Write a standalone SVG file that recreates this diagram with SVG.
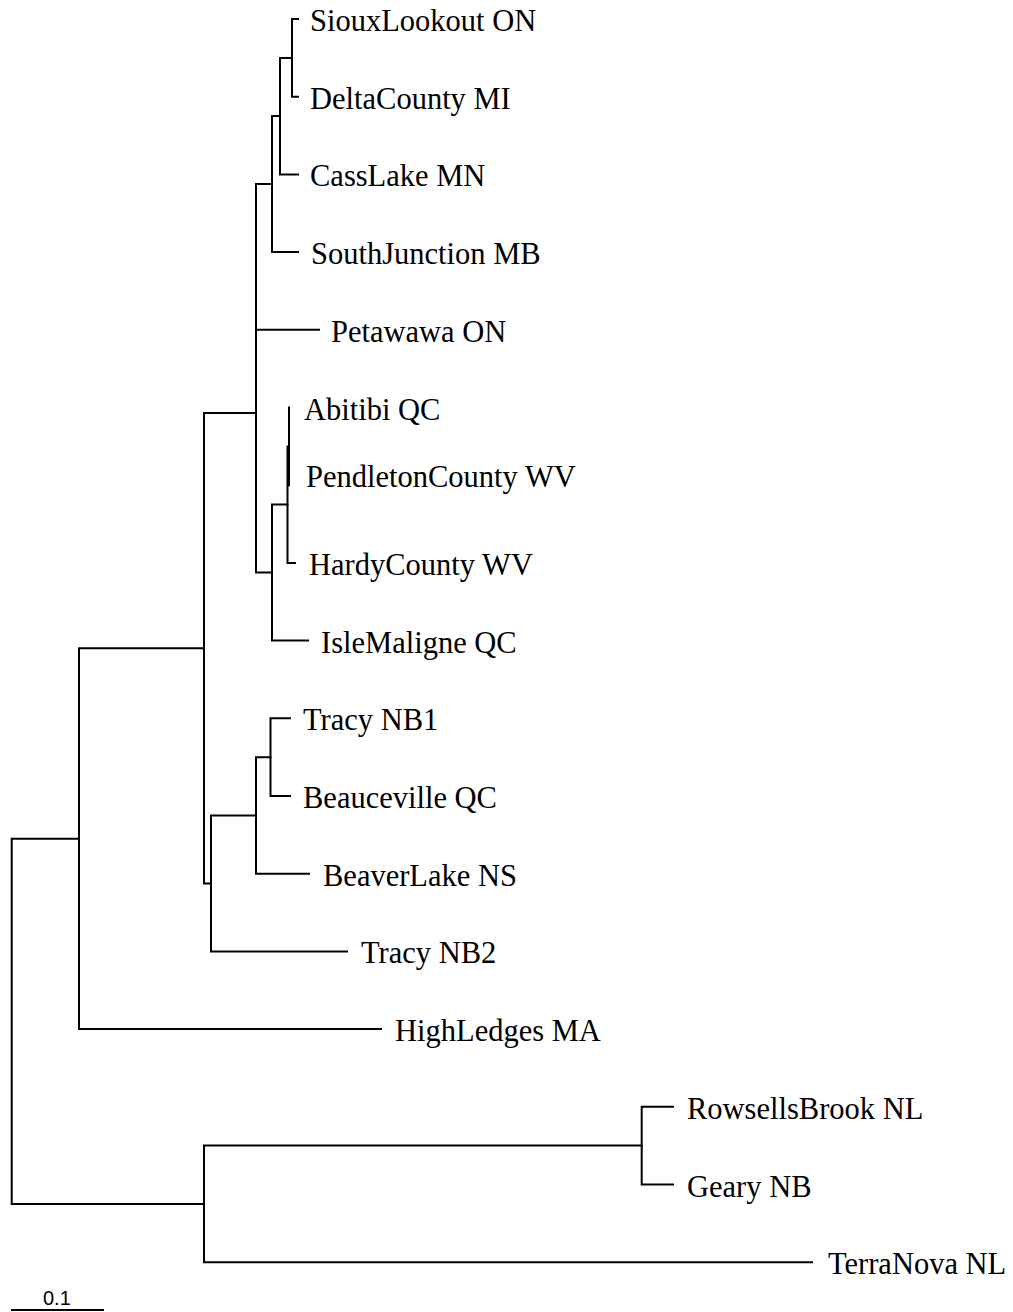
<svg xmlns="http://www.w3.org/2000/svg" width="1013" height="1312" viewBox="0 0 1013 1312">
<style>
.br{fill:none;stroke:#000;stroke-width:2;stroke-linecap:square;stroke-linejoin:miter}
.lb{font-family:"Liberation Serif","Times New Roman",serif;font-size:30.5px;fill:#000}
.sc{font-family:"Liberation Sans",Arial,sans-serif;font-size:20px;fill:#000}
</style>
<rect width="1013" height="1312" fill="#fff"/>
<g id="connectors">
<path class="br" d="M298,19 H292 V96.7 H298"/>
<path class="br" d="M292,57.9 H280 V174.4 H298"/>
<path class="br" d="M280,116.1 H272 V252.1 H298"/>
<path class="br" d="M272,184.1 H256 V572.6 H272"/>
<path class="br" d="M256,329.8 H319"/>
<path class="br" d="M289,407.5 V485.2"/>
<path class="br" d="M289,446.4 H287.5 V562.9 H295"/>
<path class="br" d="M287.5,504.6 H272 V640.6 H308"/>
<path class="br" d="M290,718.3 H270.5 V796 H290"/>
<path class="br" d="M270.5,757.2 H256 V873.7 H309"/>
<path class="br" d="M256,815.4 H211 V951.4 H347"/>
<path class="br" d="M256,413 H204 V883.4 H211"/>
<path class="br" d="M204,648.2 H79 V1029.1 H381"/>
<path class="br" d="M673,1106.8 H641.7 V1184.5 H673"/>
<path class="br" d="M641.7,1145.6 H204 V1262.2 H812"/>
<path class="br" d="M79,838.7 H11.7 V1203.9 H204"/>
</g>
<g id="n-siouxlookout"><text class="lb" x="310" y="31">SiouxLookout ON</text></g>
<g id="n-deltacounty"><text class="lb" x="310" y="108.7">DeltaCounty MI</text></g>
<g id="n-casslake"><text class="lb" x="310" y="186.4">CassLake MN</text></g>
<g id="n-southjunction"><text class="lb" x="311" y="264.1">SouthJunction MB</text></g>
<g id="n-petawawa"><text class="lb" x="331" y="341.8">Petawawa ON</text></g>
<g id="n-abitibi"><text class="lb" x="304" y="419.5">Abitibi QC</text></g>
<g id="n-pendleton"><text class="lb" x="306" y="487">PendletonCounty WV</text></g>
<g id="n-hardy"><text class="lb" x="309" y="575">HardyCounty WV</text></g>
<g id="n-islemaligne"><text class="lb" x="321" y="652.6">IsleMaligne QC</text></g>
<g id="n-tracynb1"><text class="lb" x="303" y="730.3">Tracy NB1</text></g>
<g id="n-beauceville"><text class="lb" x="303" y="808">Beauceville QC</text></g>
<g id="n-beaverlake"><text class="lb" x="323" y="885.7">BeaverLake NS</text></g>
<g id="n-tracynb2"><text class="lb" x="361" y="963.4">Tracy NB2</text></g>
<g id="n-highledges"><text class="lb" x="395" y="1041">HighLedges MA</text></g>
<g id="n-rowsellsbrook"><text class="lb" x="687" y="1118.8">RowsellsBrook NL</text></g>
<g id="n-geary"><text class="lb" x="687" y="1196.5">Geary NB</text></g>
<g id="n-terranova"><text class="lb" x="828" y="1274.2">TerraNova NL</text></g>
<g id="scale-bar">
<path class="br" d="M12,1310 H103"/>
<text class="sc" x="43" y="1305">0.1</text>
</g>
</svg>
